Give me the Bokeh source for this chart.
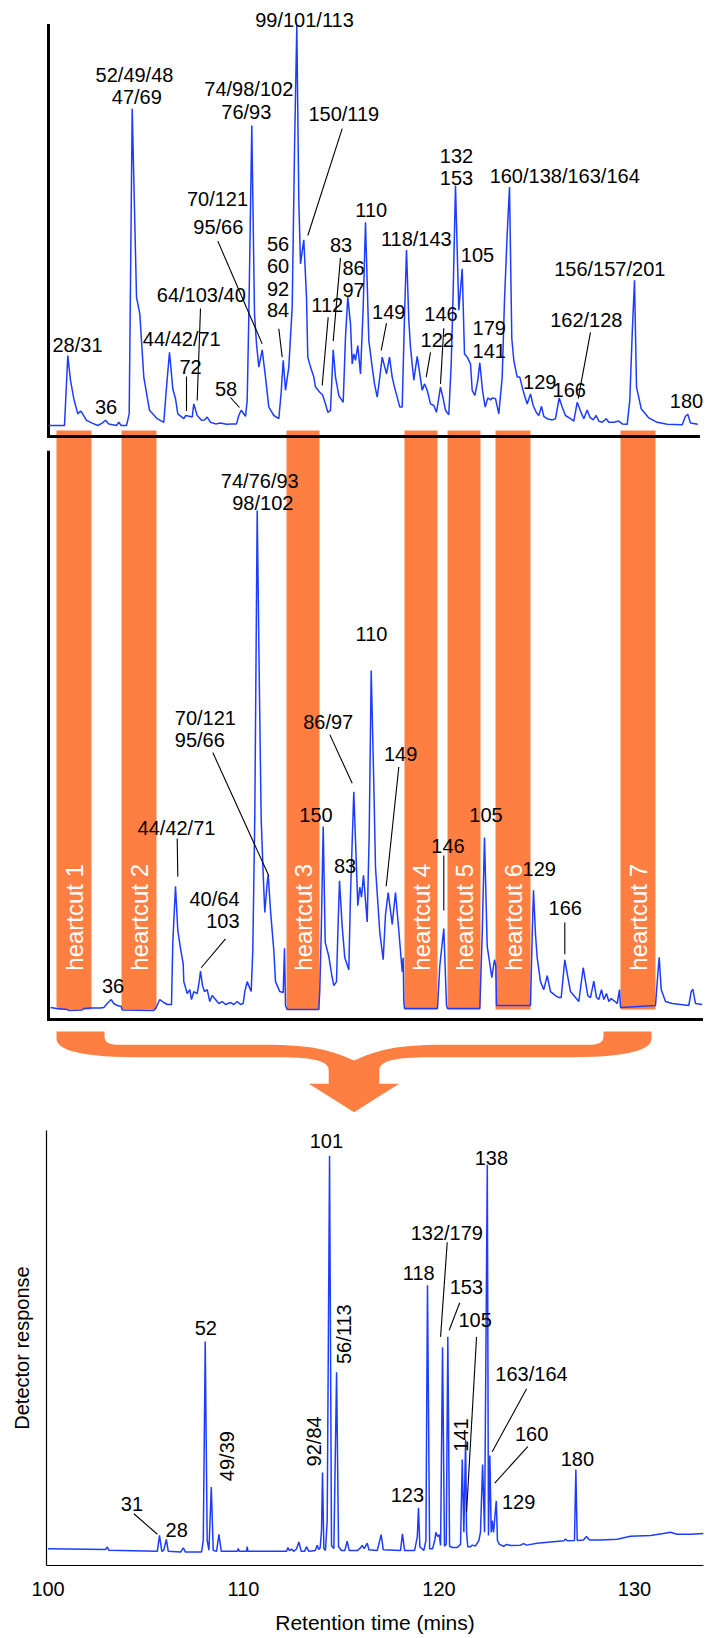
import numpy as np
from bokeh.plotting import figure
from bokeh.models import Range1d, FixedTicker
from bokeh.layouts import column
from bokeh.embed import file_html
from bokeh.resources import INLINE
from bokeh.core.properties import value

FONT = value("Liberation Sans")
BLUE = "#1e3cff"
ORANGE = "#ff7f42"
LAB = "20px"

# ---------------- first-dimension chromatogram (top) : (time, response) ----------------
top_points = [(0.0, 0), (1.6, 0), (1.93, 17.5), (2.2, 11.3), (2.53, 6.7), (2.93, 2.9), (3.2, 3.6), (3.37, 3.1),
              (3.8, 1.3), (4.37, 0.6), (4.93, 0), (5.37, 0.6), (5.7, 1.3), (6.03, 0.4), (6.8, 0), (7.03, 0.8),
              (7.27, 0), (7.8, 0), (8.07, 2.9), (8.37, 79.2), (8.8, 32.1), (9.13, 27.9), (9.53, 12.1), (10.1, 3.8),
              (10.87, 1.7), (11.53, 0.8), (11.8, 9.6), (12.1, 18.3), (12.43, 9.2), (12.7, 6.7), (12.93, 2.9),
              (13.53, 1.7), (13.73, 2.5), (14.37, 2.1), (14.53, 5.4), (14.87, 2.5), (15.3, 1.3), (15.6, 1.4),
              (15.87, 2.1), (16.2, 0.8), (16.7, 0.4), (17.2, 0.6), (17.8, 0.3), (18.37, 0.4), (18.8, 0.4),
              (19.03, 2.5), (19.27, 3.8), (19.7, 2.3), (19.87, 6.3), (20.03, 27.1), (20.33, 75.0), (20.6, 27.9),
              (20.8, 20.4), (21.03, 14.6), (21.37, 18.9), (21.7, 12.1), (22.03, 4.6), (22.53, 2.5), (23.03, 1.7),
              (23.27, 8.3), (23.47, 16.3), (23.7, 8.8), (24.03, 14.6), (24.37, 29.6), (24.6, 68.8), (24.83, 100),
              (25.03, 56.3), (25.2, 40.4), (25.53, 46.4), (25.8, 32.1), (25.93, 17.1), (26.2, 14.6), (26.53, 12.1),
              (26.7, 9.6), (27.13, 8.3), (27.4, 7.7), (27.7, 5.4), (27.93, 3.3), (28.2, 3.8), (28.47, 18.9),
              (28.7, 12.1), (29.03, 7.5), (29.47, 5.8), (29.7, 22.1), (29.93, 32.1), (30.2, 25.4), (30.37, 15.4),
              (30.53, 17.9), (30.7, 16.3), (30.93, 20.0), (31.2, 12.9), (31.47, 29.6), (31.7, 50.8), (32.03, 21.3),
              (32.37, 14.6), (32.6, 10.4), (32.87, 7.1), (33.13, 12.1), (33.37, 17.1), (33.8, 12.9), (34.1, 17.1),
              (34.37, 12.1), (34.6, 9.6), (34.87, 7.1), (35.13, 4.6), (35.37, 4.6), (35.6, 27.1), (35.8, 43.9),
              (36.03, 26.3), (36.2, 19.6), (36.53, 11.3), (36.87, 17.3), (37.13, 12.9), (37.37, 8.8), (37.6, 10.4),
              (37.87, 8.8), (38.2, 5.4), (38.53, 5.0), (38.8, 3.3), (39.2, 9.6), (39.47, 6.7), (39.7, 3.8),
              (40.03, 2.7), (40.27, 15.4), (40.47, 33.8), (40.7, 60.0), (40.87, 43.8), (41.03, 28.8), (41.37, 39.2),
              (41.6, 17.9), (41.87, 17.1), (42.2, 15.4), (42.37, 8.8), (42.63, 7.5), (42.93, 11.3), (43.13, 15.7),
              (43.4, 8.8), (43.67, 4.6), (43.93, 6.9), (44.2, 6.4), (44.4, 6.9), (44.7, 6.7), (45.03, 2.9),
              (45.37, 12.1), (45.6, 31.3), (45.87, 47.9), (46.1, 59.6), (46.33, 21.7), (46.53, 16.3), (46.87, 12.1),
              (47.13, 12.1), (47.37, 9.6), (47.6, 7.5), (47.87, 5.4), (48.2, 7.9), (48.47, 5.0), (48.77, 3.3),
              (49.03, 2.5), (49.3, 4.8), (49.53, 2.3), (49.87, 1.7), (50.37, 1.4), (50.7, 1.7), (51.07, 6.9),
              (51.37, 4.6), (51.7, 2.5), (52.2, 1.7), (52.53, 1.1), (52.87, 5.8), (53.2, 3.6), (53.53, 1.7),
              (53.87, 3.9), (54.13, 2.1), (54.47, 1.4), (54.77, 2.5), (55.03, 1.1), (55.37, 0.8), (55.77, 1.7),
              (56.03, 0.8), (56.53, 0.8), (57.03, 1.1), (57.37, 0.4), (57.87, 0.3), (58.13, 6.3), (58.37, 22.9),
              (58.6, 36.3), (58.8, 9.6), (59.27, 4.2), (60.03, 1.9), (60.87, 0.8), (61.87, 0.3), (63.37, 0.2),
              (63.7, 2.3), (63.93, 2.8), (64.2, 0.6), (64.93, 0.3)]

# ---------------- first-dimension chromatogram with heartcuts (middle) ----------------
mid_points = [(0.2, 0), (0.8, -0.2), (1.87, -0.4), (2.03, -0.6), (3.37, -0.5), (3.53, -0.2), (4.27, -0.1),
              (5.2, -0.1), (5.53, 0), (5.87, 0.8), (6.27, 1.6), (6.53, 0.8), (6.87, 0.4), (7.27, 0.2), (7.37, -0.5),
              (10.53, -0.6), (10.77, 0), (11.13, 1.6), (11.53, 1.0), (11.87, 0.6), (12.3, 0.6), (12.43, 13.1),
              (12.7, 24.4), (12.93, 15.5), (13.2, 11.9), (13.47, 8.8), (13.53, 5.2), (13.87, 2.8), (14.13, 3.6),
              (14.3, 1.6), (14.53, 3.2), (14.87, 2.8), (15.07, 5.2), (15.2, 7.3), (15.4, 4.4), (15.6, 3.2),
              (15.87, 3.6), (16.13, 1.2), (16.37, 2.4), (16.7, 1.6), (17.03, 0.8), (17.37, 1.2), (17.7, 0.6),
              (18.2, 1.0), (18.53, 0.6), (18.87, 1.2), (19.2, 0.6), (19.47, 0.8), (19.63, 3.2), (19.87, 5.2),
              (20.03, 4.4), (20.27, 3.2), (20.43, 11.5), (20.63, 38.6), (20.87, 100), (21.1, 62.4), (21.27, 37.8),
              (21.47, 26.7), (21.63, 19.1), (21.87, 25.1), (21.97, 26.7), (22.2, 19.5), (22.53, 11.5), (22.7, 5.2),
              (23.13, 3.2), (23.47, 3.0), (23.6, 11.9), (23.7, 0.4), (23.87, -0.4), (27.03, -0.4), (27.13, 3.6),
              (27.27, 14.7), (27.47, 36.4), (27.67, 13.1), (28.03, 10.3), (28.3, 6.8), (28.53, 4.4), (28.8, 5.2),
              (28.93, 14.7), (29.1, 25.5), (29.37, 16.3), (29.63, 10.0), (30.03, 7.6), (30.2, 22.7), (30.53, 43.4),
              (30.93, 20.5), (31.13, 24.2), (31.3, 22.2), (31.5, 26.6), (31.7, 21.5), (31.87, 17.2), (32.07, 35.0),
              (32.27, 67.8), (32.53, 45.0), (32.7, 28.2), (33.13, 15.1), (33.47, 9.6), (33.7, 18.7), (33.97, 23.1),
              (34.37, 16.7), (34.7, 23.1), (35.03, 15.5), (35.37, 7.2), (35.47, 10.0), (35.53, 1.2), (35.6, -0.2),
              (38.9, -0.2), (39.13, 8.4), (39.53, 15.9), (39.8, 0.4), (39.9, -0.2), (43.13, -0.2), (43.37, 14.7),
              (43.6, 34.2), (43.87, 12.3), (44.13, 8.8), (44.33, 6.0), (44.6, 9.6), (44.73, 8.4), (44.8, 0.4),
              (48.2, 0.4), (48.37, 14.7), (48.5, 23.6), (48.7, 14.7), (48.87, 10.0), (49.2, 5.2), (49.53, 3.6),
              (49.87, 6.4), (50.2, 3.2), (50.7, 2.4), (51.03, 2.0), (51.27, 2.0), (51.63, 9.6), (51.87, 6.8),
              (52.2, 3.2), (52.7, 2.0), (53.03, 1.2), (53.47, 8.0), (53.7, 5.2), (53.93, 2.4), (54.2, 2.0),
              (54.53, 5.3), (54.8, 2.0), (55.03, 1.6), (55.3, 3.6), (55.53, 1.6), (55.8, 2.8), (56.03, 1.2),
              (56.27, 1.8), (56.53, 1.4), (56.87, 0.8), (57.1, 3.6), (57.2, 0), (60.7, 0.4), (60.93, 6.7),
              (61.07, 10.1), (61.27, 3.6), (61.7, 1.2), (62.37, 0.8), (63.2, 0.6), (64.03, 0.4), (64.27, 3.2),
              (64.43, 3.7), (64.7, 0.8), (65.37, 0.6)]

# heartcut windows (first-dimension time)
cut_start = [0.8, 7.3, 23.8, 35.6, 39.9, 44.7, 57.2]
cut_end = [4.3, 10.8, 27.1, 38.9, 43.2, 48.2, 60.7]
cut_names = ["heartcut 1", "heartcut 2", "heartcut 3", "heartcut 4", "heartcut 5", "heartcut 6", "heartcut 7"]

# ---------------- second-dimension chromatogram (bottom) : (minutes, response) ----------------
bot_points = [(100.0, 1.0), (102.94, 0.8), (103.03, 1.4), (103.11, 0.6), (105.59, 0.3), (105.70, 4.4),
              (105.82, 0.3), (105.92, 0.6), (106.05, 3.4), (106.15, 0.3), (106.78, 0.1), (106.92, 1.2),
              (107.03, 0.1), (107.85, 0.1), (107.94, 3.1), (108.04, 54.4), (108.14, 3.1), (108.23, 0.6),
              (108.35, 16.9), (108.45, 0.6), (108.62, 0.3), (108.74, 4.7), (108.86, 0.3), (109.68, 0.3),
              (109.73, 1.0), (109.78, 0.3), (110.15, 0.3), (110.19, 1.5), (110.22, 0.3), (112.2, 0.3),
              (112.27, 1.3), (112.34, 0.5), (112.46, 0.9), (112.56, 0.3), (112.71, 0.9), (112.83, 2.7),
              (112.95, 0.3), (113.12, 0.3), (113.22, 1.5), (113.34, 0.3), (113.67, 0.5), (113.77, 1.9),
              (113.85, 0.8), (113.92, 1.2), (113.99, 5.7), (114.04, 20.6), (114.11, 1.0), (114.19, 0.5),
              (114.28, 8.2), (114.40, 102.3), (114.50, 1.8), (114.62, 1.0), (114.76, 46.5), (114.86, 1.5),
              (115.01, 0.5), (115.18, 0.5), (115.30, 2.9), (115.41, 0.5), (115.82, 0.5), (115.98, 1.2),
              (116.07, 1.8), (116.17, 1.0), (116.33, 2.4), (116.41, 0.7), (116.84, 0.5), (117.04, 4.6),
              (117.15, 0.7), (118.03, 0.5), (118.13, 4.8), (118.24, 0.5), (118.75, 0.5), (118.89, 4.1),
              (118.95, 11.5), (119.02, 1.5), (119.22, 0.5), (119.33, 3.1), (119.41, 68.9), (119.52, 1.0),
              (119.67, 1.0), (119.78, 3.1), (119.84, 5.2), (119.92, 4.1), (120.01, 4.6), (120.08, 1.8),
              (120.18, 52.9), (120.28, 1.6), (120.37, 2.1), (120.45, 55.6), (120.54, 1.6), (120.68, 1.3),
              (120.93, 1.3), (121.10, 2.1), (121.19, 24.0), (121.27, 5.2), (121.36, 29.0), (121.41, 5.2),
              (121.47, 1.5), (121.61, 1.5), (121.70, 1.9), (121.87, 1.7), (122.04, 3.1), (122.12, 5.2),
              (122.23, 22.7), (122.33, 5.2), (122.47, 100.0), (122.53, 4.4), (122.60, 25.0), (122.67, 5.2),
              (122.72, 8.2), (122.79, 5.2), (122.84, 8.2), (122.93, 13.3), (122.99, 3.1), (123.09, 2.1),
              (123.31, 1.6), (123.45, 2.1), (123.66, 1.8), (124.17, 1.9), (124.32, 2.3), (124.48, 1.9),
              (125.02, 2.4), (126.38, 3.0), (126.47, 3.5), (126.56, 3.0), (126.93, 3.1), (127.0, 21.4),
              (127.07, 3.1), (127.39, 3.2), (127.54, 4.1), (127.70, 3.2), (128.26, 3.2), (129.11, 3.4),
              (129.80, 4.2), (130.82, 4.4), (131.48, 4.9), (131.84, 5.2), (132.18, 4.7), (132.86, 4.7),
              (133.54, 4.9)]
x_ticks = [100, 110, 120, 130]

# ---------------- peak annotations (text baselines) ----------------
top_lab_text = ["28/31", "36", "52/49/48", "47/69", "44/42/71", "72", "64/103/40", "58", "70/121", "95/66",
                "74/98/102", "76/93", "99/101/113", "150/119", "56", "60", "92", "84", "112", "83", "86", "97",
                "110", "149", "118/143", "146", "122", "132", "153", "105", "179", "141", "160/138/163/164",
                "129", "166", "162/128", "156/157/201", "180"]
top_lab_x = [2.9, 5.75, 8.6, 8.83, 13.33, 14.2, 15.28, 17.75, 16.9, 16.98, 20.03, 19.78, 25.6, 29.53, 22.95,
             22.95, 22.95, 22.95, 27.87, 29.25, 30.5, 30.5, 32.27, 34.02, 36.78, 39.25, 38.87, 40.8, 40.8, 42.9,
             44.08, 44.08, 51.62, 49.12, 52.07, 53.78, 56.13, 63.8]
top_lab_y = [18.5, 3.0, 86.0, 80.5, 19.8, 13.0, 30.8, 7.3, 55.0, 48.0, 82.3, 76.7, 99.6, 76.1, 43.75, 38.2,
             32.5, 27.1, 28.3, 43.3, 37.75, 32.1, 52.25, 26.7, 45.0, 26.1, 19.6, 65.75, 60.2, 40.8, 22.7, 16.9,
             60.6, 9.2, 7.25, 24.6, 37.3, 4.4]
top_lead_x0 = [13.8, 15.2, 18.2, 16.93, 29.37, 23.03, 27.97, 29.2, 33.8, 39.53, 38.2, 54.2]
top_lead_y0 = [12.25, 29.25, 7.0, 46.1, 74.2, 24.2, 27.1, 41.9, 25.6, 24.3, 18.3, 23.3]
top_lead_x1 = [13.8, 14.87, 19.1, 21.37, 25.93, 23.37, 27.37, 28.47, 33.27, 39.2, 37.77, 52.97]
top_lead_y1 = [3.6, 6.25, 4.5, 20.4, 47.5, 17.1, 10.0, 21.1, 18.75, 10.4, 12.1, 6.7]

mid_lab_text = ["74/76/93", "98/102", "44/42/71", "36", "150", "83", "86/97", "110", "149", "146", "105",
                "129", "166"]
mid_lab_x = [21.13, 21.43, 12.8, 6.45, 26.75, 29.65, 27.97, 32.3, 35.21, 39.95, 43.75, 49.07, 51.67]
mid_lab_y = [104.6, 100.0, 34.8, 3.0, 37.4, 27.0, 56.1, 73.7, 49.5, 31.1, 37.4, 26.5, 18.7]
mid_left_text = ["70/121", "95/66"]
mid_left_x = [12.63, 12.63]
mid_left_y = [56.9, 52.4]
mid_right_text = ["40/64", "103"]
mid_right_x = [19.1, 19.1]
mid_right_y = [20.4, 15.9]
mid_lead_x0 = [16.43, 12.87, 17.7, 28.13, 35.03, 39.53, 51.63]
mid_lead_y0 = [51.3, 34.0, 13.8, 54.9, 48.4, 30.6, 17.1]
mid_lead_x1 = [22.03, 12.93, 15.27, 30.37, 33.77, 39.53, 51.63]
mid_lead_y1 = [26.5, 26.3, 8.0, 45.1, 24.4, 19.5, 10.7]

bot_lab_text = ["101", "52", "31", "28", "138", "132/179", "118", "153", "105", "163/164", "160", "129",
                "180", "123"]
bot_lab_x = [114.24, 108.07, 104.29, 106.58, 122.68, 120.40, 118.96, 121.40, 121.85, 124.73, 124.74, 124.07,
             127.08, 118.38]
bot_lab_y = [104.4, 56.2, 10.6, 4.0, 99.9, 80.6, 70.2, 66.6, 58.2, 44.1, 28.7, 11.1, 22.2, 13.1]
bot_rot_text = ["49/39", "92/84", "56/113", "141"]
bot_rot_x = [109.50, 113.94, 115.51, 121.47]
bot_rot_y = [18.4, 22.2, 48.6, 26.0]
bot_lead_x0 = [104.39, 120.42, 121.06, 121.92, 124.48, 124.54]
bot_lead_y0 = [10.0, 80.0, 64.4, 55.6, 42.2, 27.3]
bot_lead_x1 = [105.59, 120.08, 120.52, 121.41, 122.72, 122.85]
bot_lead_y1 = [4.7, 55.6, 57.3, 10.5, 26.0, 17.9]

# pixel scales of the three panels (px per data unit) and digit half-height in px
TOP_PPU, MID_PPU, BOT_PPU, BOT_PPX = 4.0, 4.97, 3.88, 19.55
LIFT = 7.0
BORDER_L, BORDER_R = 46, 10


def lift(vals, ppu):
    return [v + LIFT / ppu for v in vals]


def base_fig(**kw):
    p = figure(toolbar_location=None, output_backend="svg", min_border=0,
               min_border_left=BORDER_L, min_border_right=BORDER_R, **kw)
    p.outline_line_color = None
    p.background_fill_color = "white"
    p.border_fill_color = "white"
    for g in p.grid:
        g.visible = False
    return p


def add_text(p, xs, ys, texts, align="center", **kw):
    p.text(x=xs, y=ys, text=texts, text_font=FONT, text_font_size=LAB, text_color="black",
           text_align=align, text_baseline="middle", **kw)


# ======== Figure A: first-dimension chromatograms ========
pA = base_fig(width=713, height=1022, x_range=Range1d(-0.2, 65.5), y_range=Range1d(-3.02, 201.0),
              x_axis_location=None, y_axis_location=None, min_border_top=8)
pA.extra_y_ranges = {"top": Range1d(-149.25, 104.25)}

# heartcut windows
pA.quad(left=cut_start, right=cut_end, bottom=-0.4, top=116.1, fill_color=ORANGE, line_color=None)

# panel frames
pA.segment(x0=[0, 0], y0=[100.0, -2.75], x1=[0, 65.0], y1=[-2.75, -2.75], y_range_name="top",
           line_color="black", line_width=3, line_cap="square")
pA.segment(x0=[0, 0], y0=[111.7, -2.41], x1=[0, 65.3], y1=[-2.41, -2.41],
           line_color="black", line_width=3, line_cap="square")

top_t, top_r = zip(*top_points)
mid_t, mid_r = zip(*mid_points)
pA.line(list(top_t), list(top_r), y_range_name="top", line_color=BLUE, line_width=1.5)
pA.line(list(mid_t), list(mid_r), line_color=BLUE, line_width=1.5)

pA.segment(x0=top_lead_x0, y0=top_lead_y0, x1=top_lead_x1, y1=top_lead_y1, y_range_name="top",
           line_color="black", line_width=1.1)
add_text(pA, top_lab_x, lift(top_lab_y, TOP_PPU), top_lab_text, y_range_name="top")

pA.segment(x0=mid_lead_x0, y0=mid_lead_y0, x1=mid_lead_x1, y1=mid_lead_y1, line_color="black", line_width=1.1)
add_text(pA, mid_lab_x, lift(mid_lab_y, MID_PPU), mid_lab_text)
add_text(pA, mid_left_x, lift(mid_left_y, MID_PPU), mid_left_text, align="left")
add_text(pA, mid_right_x, lift(mid_right_y, MID_PPU), mid_right_text, align="right")

cut_mid = [(a + b) / 2 for a, b in zip(cut_start, cut_end)]
pA.text(x=cut_mid, y=[7.4] * len(cut_mid), text=cut_names, angle=np.pi / 2, text_font=FONT,
        text_font_size="24px", text_color="white", text_align="left", text_baseline="middle")

# ======== Figure B: curly-brace arrow (page-pixel coordinates) ========
pB = base_fig(width=713, height=96, x_range=Range1d(BORDER_L, 713 - BORDER_R), y_range=Range1d(0, 96),
              x_axis_location=None, y_axis_location=None)


def bez(p0, p1, p2, p3, n=14):
    t = np.linspace(0, 1, n)[:, None]
    pts = ((1 - t) ** 3) * np.array(p0) + 3 * ((1 - t) ** 2) * t * np.array(p1) \
        + 3 * (1 - t) * t ** 2 * np.array(p2) + t ** 3 * np.array(p3)
    return [tuple(v) for v in pts]


right = []
right += bez((353.5, 58), (380, 70), (400, 73.7), (445, 73.7))
right += [(588, 73.7)]
right += bez((588, 73.7), (598, 73.7), (603, 76), (603, 82), 8)
right += [(603, 87), (651, 87), (651, 80)]
right += bez((651, 80), (651, 68), (625, 61.3), (570, 61.3))
right += [(431, 61.3)]
right += bez((431, 61.3), (395, 61.3), (378.8, 58), (378.8, 48))
right += [(378.8, 34.7), (398.6, 34.7), (353.5, 6.3)]
left = [(707 - x, y) for (x, y) in reversed(right)]
outline = right + left[1:]
pB.patch([v[0] for v in outline], [v[1] for v in outline], fill_color=ORANGE, line_color=None)

# ======== Figure C: second-dimension chromatogram ========
pC = base_fig(width=713, height=520, x_range=Range1d(99.92, 133.53), y_range=Range1d(-3.35, 108.8),
              min_border_top=12, min_border_bottom=73)
pC.xaxis.ticker = FixedTicker(ticks=x_ticks)
pC.yaxis.ticker = FixedTicker(ticks=[])
pC.xaxis.axis_label = "Retention time (mins)"
pC.yaxis.axis_label = "Detector response"
for ax in (pC.xaxis[0], pC.yaxis[0]):
    ax.axis_line_color = "black"
    ax.axis_line_width = 1.2
    ax.major_tick_line_color = None
    ax.minor_tick_line_color = None
    ax.major_tick_out = 0
    ax.major_tick_in = 0
    ax.minor_tick_out = 0
    ax.minor_tick_in = 0
    ax.axis_label_text_font = "Liberation Sans"
    ax.axis_label_text_font_style = "normal"
    ax.axis_label_text_font_size = "20px"
    ax.axis_label_text_color = "black"
    ax.major_label_text_font = "Liberation Sans"
    ax.major_label_text_font_size = "20px"
    ax.major_label_text_color = "black"
pC.xaxis.axis_label_text_font_size = "21px"
pC.xaxis.major_label_standoff = 16
pC.xaxis.axis_label_standoff = 12
pC.yaxis.axis_label_standoff = 14

bot_t, bot_r = zip(*bot_points)
pC.line(list(bot_t), list(bot_r), line_color=BLUE, line_width=1.5)
pC.segment(x0=bot_lead_x0, y0=bot_lead_y0, x1=bot_lead_x1, y1=bot_lead_y1, line_color="black", line_width=1.1)
add_text(pC, bot_lab_x, lift(bot_lab_y, BOT_PPU), bot_lab_text)
pC.text(x=[v - LIFT / BOT_PPX for v in bot_rot_x], y=bot_rot_y, text=bot_rot_text, angle=np.pi / 2,
        text_font=FONT, text_font_size=LAB, text_color="black", text_align="left", text_baseline="middle")

layout = column(pA, pB, pC, spacing=0)
open("out.html", "w").write(file_html(layout, INLINE))
